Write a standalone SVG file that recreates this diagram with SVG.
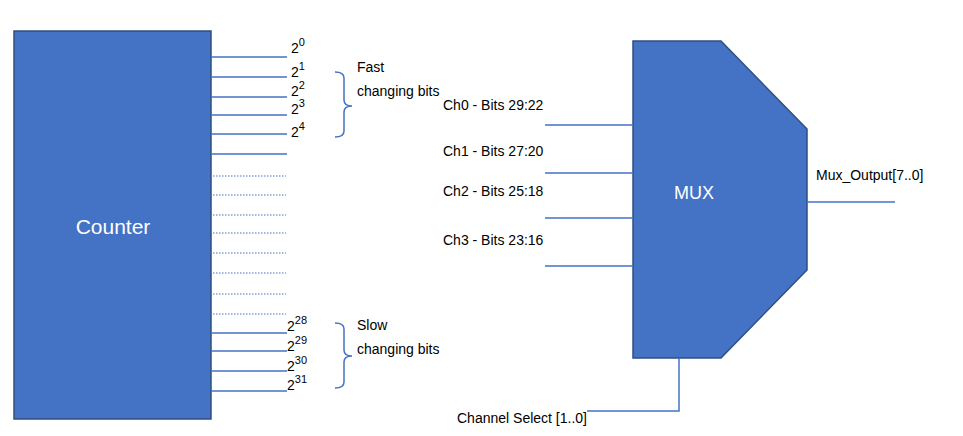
<svg xmlns="http://www.w3.org/2000/svg" width="963" height="436" viewBox="0 0 963 436">
<style>
.blk{fill:#4472c4;stroke:#2f4f80;stroke-width:1.5}
.w{stroke:#4472c4;stroke-width:1.5;fill:none}
.d{stroke:#4472c4;stroke-width:1.2;stroke-dasharray:1.5 1.5;fill:none}
text{font-family:"Liberation Sans",Arial,sans-serif;font-size:14px;fill:#000}
.big{font-size:15px}
.sup{font-size:11px}
.in{fill:#fff;font-size:21px}
</style>
<rect width="963" height="436" fill="#fff"/>
<g id="counter">
<rect class="blk" x="14" y="31" width="197" height="388"/>
<text class="in" x="113" y="234" text-anchor="middle">Counter</text>
</g>
<g id="mux">
<path class="blk" d="M633,41 H721 L807,129 V270 L721,358 H633 Z"/>
<text class="in" x="694" y="199" text-anchor="middle" font-size="18" style="font-size:18px">MUX</text>
</g>
<g id="connectors">
<path class="w" d="M211,57H287M211,77H287M211,97H287M211,115H287M211,134H287M211,154H287"/>
<path class="d" d="M213,176H286M213,195H286M213,215H286M213,233H286M213,253H286M213,273H286M213,294H286M213,314H286"/>
<path class="w" d="M211,333H287M211,351H287M211,371H287M211,391H287"/>
<path class="w" d="M335,72 Q344,72 344,78 V100 Q344,106 352,106 Q344,106 344,112 V131 Q344,137 335,137"/>
<path class="w" d="M335,323 Q344,323 344,329 V350 Q344,356 352,356 Q344,356 344,362 V382 Q344,388 335,388"/>
<path class="w" d="M545,125H633M545,173H633M545,218H633M545,266H633"/>
<path class="w" d="M807,202H895"/>
<path class="w" d="M679,358V411H587"/>
</g>
<g id="labels">
<text x="291" y="53">2<tspan class="sup" dy="-7">0</tspan></text>
<text x="291" y="77">2<tspan class="sup" dy="-7">1</tspan></text>
<text x="291" y="96">2<tspan class="sup" dy="-7">2</tspan></text>
<text x="291" y="114">2<tspan class="sup" dy="-7">3</tspan></text>
<text x="291" y="137">2<tspan class="sup" dy="-7">4</tspan></text>
<text x="287" y="331">2<tspan class="sup" dy="-7">28</tspan></text>
<text x="287" y="351">2<tspan class="sup" dy="-7">29</tspan></text>
<text x="287" y="371">2<tspan class="sup" dy="-7">30</tspan></text>
<text x="287" y="390">2<tspan class="sup" dy="-7">31</tspan></text>
<text x="357" y="72">Fast</text>
<text x="357" y="96">changing bits</text>
<text x="357" y="330">Slow</text>
<text x="357" y="354">changing bits</text>
<text x="443" y="110">Ch0 - Bits 29:22</text>
<text x="443" y="156">Ch1 - Bits 27:20</text>
<text x="443" y="196">Ch2 - Bits 25:18</text>
<text x="443" y="245">Ch3 - Bits 23:16</text>
<text x="816" y="180">Mux_Output[7..0]</text>
<text x="457" y="423">Channel Select [1..0]</text>
</g>
</svg>
